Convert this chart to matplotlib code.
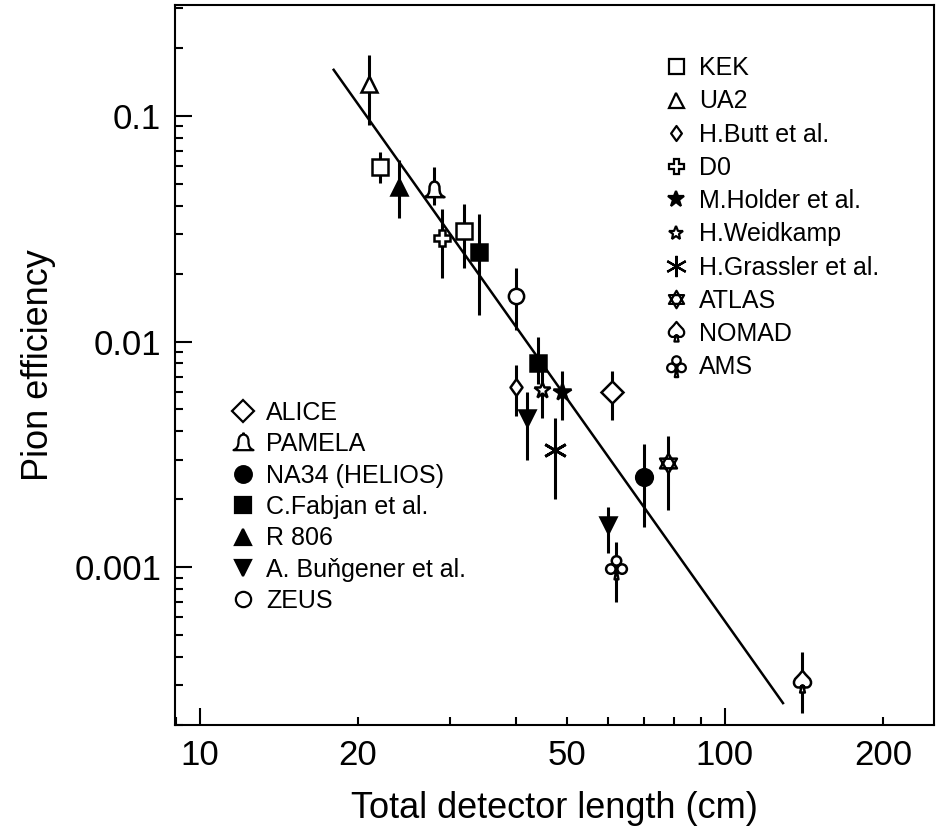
import numpy as np
import matplotlib
matplotlib.use("Agg")
import matplotlib.pyplot as plt
from matplotlib.path import Path
from matplotlib.lines import Line2D
from matplotlib import ticker

# values: x = detector length (cm), y = pion efficiency,
# hi / lo = upper and lower ends of the error bar
kek_x, kek_y, kek_hi, kek_lo = [22.1, 31.9], [0.0594, 0.0309], [0.0692, 0.0407], [0.0505, 0.0212]
ua2_x, ua2_y, ua2_hi, ua2_lo = [21.0], [0.139], [0.186], [0.091]
butt_x, butt_y, butt_hi, butt_lo = [40.1], [0.0063], [0.0079], [0.0047]
d0_x, d0_y, d0_hi, d0_lo = [29.0], [0.0288], [0.0387], [0.0191]
holder_x, holder_y, holder_hi, holder_lo = [49.0], [0.0060], [0.0074], [0.0045]
weid_x, weid_y, weid_hi, weid_lo = [44.9], [0.0061], [0.0079], [0.0046]
grass_x, grass_y, grass_hi, grass_lo = [47.5], [0.0033], [0.0046], [0.0020]
atlas_x, atlas_y, atlas_hi, atlas_lo = [78.0], [0.0029], [0.0038], [0.0018]
nomad_x, nomad_y, nomad_hi, nomad_lo = [140.0], [0.00031], [0.00042], [0.000225]
ams_x, ams_y, ams_hi, ams_lo = [62.0], [0.0010], [0.0013], [0.0007]

alice_x, alice_y, alice_hi, alice_lo = [61.0], [0.0060], [0.0074], [0.0045]
pam_x, pam_y, pam_hi, pam_lo = [28.0], [0.047], [0.0594], [0.0403]
na34_x, na34_y, na34_hi, na34_lo = [70.0], [0.0025], [0.0035], [0.0015]
fab_x, fab_y, fab_hi, fab_lo = [34.1, 44.0], [0.0249, 0.0080], [0.0367, 0.0105], [0.0131, 0.0065]
r806_x, r806_y, r806_hi, r806_lo = [24.0], [0.0484], [0.0638], [0.0353]
bung_x, bung_y, bung_hi, bung_lo = [42.0, 60.0], [0.0046, 0.00154], [0.0060, 0.00185], [0.0030, 0.00116]
zeus_x, zeus_y, zeus_hi, zeus_lo = [40.1], [0.0159], [0.0212], [0.0113]

# straight line fit (two end points)
fit_x = [18.0, 129.0]
fit_y = [0.16, 2.5e-4]

plt.rcParams['font.family'] = ['Liberation Sans', 'DejaVu Sans']

M, L, C, Z = Path.MOVETO, Path.LINETO, Path.CURVE4, Path.CLOSEPOLY


def bell():
    v = [(-0.9, -0.6), (0.9, -0.6),
         (0.55, -0.45), (0.45, -0.25), (0.45, 0.2),
         (0.45, 0.65), (0.2, 0.8), (0.0, 0.8),
         (-0.2, 0.8), (-0.45, 0.65), (-0.45, 0.2),
         (-0.45, -0.25), (-0.55, -0.45), (-0.9, -0.6),
         (0, 0),
         (0, 0.8), (0, 1.0)]
    c = [M, L, C, C, C, C, C, C, C, C, C, C, C, C, Z, M, L]
    return Path(v, c)


def spade():
    v = [(0, 1.0),
         (0.3, 0.55), (0.85, 0.3), (0.7, -0.15),
         (0.55, -0.55), (0.1, -0.45), (0.06, -0.25),
         (0.2, -0.85), (-0.2, -0.85), (-0.06, -0.25),
         (-0.1, -0.45), (-0.55, -0.55), (-0.7, -0.15),
         (-0.85, 0.3), (-0.3, 0.55), (0, 1.0),
         (0, 0)]
    c = [M, C, C, C, C, C, C, L, L, L, C, C, C, C, C, C, Z]
    return Path(v, c)


def club():
    s = 1 / 0.75
    parts = [Path.circle((0, 0.42 * s), 0.3 * s),
             Path.circle((-0.36 * s, -0.1 * s), 0.3 * s),
             Path.circle((0.36 * s, -0.1 * s), 0.3 * s),
             Path([(0, -0.1 * s), (0.12 * s, -0.75 * s), (-0.12 * s, -0.75 * s), (0, -0.1 * s)],
                  [M, L, L, Z])]
    return Path.make_compound_path(*parts)


def hexagram():
    up = [(np.cos(t), np.sin(t)) for t in np.deg2rad([90, 210, 330])]
    dn = [(np.cos(t), np.sin(t)) for t in np.deg2rad([270, 30, 150])]
    return Path(up + [(0, 0)] + dn + [(0, 0)], [M, L, L, Z, M, L, L, Z])


def thinDiamond():
    return Path([(0, 1), (0.72, 0), (0, -1), (-0.72, 0), (0, 0)], [M, L, L, L, Z])


# label, data, marker, size, filled
right_series = [
    ('KEK', kek_x, kek_y, kek_hi, kek_lo, 's', 12, False),
    ('UA2', ua2_x, ua2_y, ua2_hi, ua2_lo, '^', 12, False),
    ('H.Butt et al.', butt_x, butt_y, butt_hi, butt_lo, thinDiamond(), 12, False),
    ('D0', d0_x, d0_y, d0_hi, d0_lo, 'P', 12, False),
    ('M.Holder et al.', holder_x, holder_y, holder_hi, holder_lo, '*', 13, True),
    ('H.Weidkamp', weid_x, weid_y, weid_hi, weid_lo, '*', 12, False),
    ('H.Grassler et al.', grass_x, grass_y, grass_hi, grass_lo, (6, 2, 0), 17, False),
    ('ATLAS', atlas_x, atlas_y, atlas_hi, atlas_lo, hexagram(), 14, False),
    ('NOMAD', nomad_x, nomad_y, nomad_hi, nomad_lo, spade(), 17, False),
    ('AMS', ams_x, ams_y, ams_hi, ams_lo, club(), 17, False),
]
left_series = [
    ('ALICE', alice_x, alice_y, alice_hi, alice_lo, 'D', 11, False),
    ('PAMELA', pam_x, pam_y, pam_hi, pam_lo, bell(), 16, False),
    ('NA34 (HELIOS)', na34_x, na34_y, na34_hi, na34_lo, 'o', 12, True),
    ('C.Fabjan et al.', fab_x, fab_y, fab_hi, fab_lo, 's', 12, True),
    ('R 806', r806_x, r806_y, r806_hi, r806_lo, '^', 12, True),
    ('A. Buňgener et al.', bung_x, bung_y, bung_hi, bung_lo, 'v', 12, True),
    ('ZEUS', zeus_x, zeus_y, zeus_hi, zeus_lo, 'o', 11, False),
]

fig = plt.figure(figsize=(9.41, 8.33), dpi=100)
ax = fig.add_axes([0.186, 0.1297, 0.8065, 0.8643])

ax.plot(fit_x, fit_y, color='k', lw=1.8, zorder=1)


def drawSeries(series, legScale):
    handles = []
    for label, xs, ys, his, los, marker, ms, filled in series:
        ys = np.array(ys)
        yerr = [ys - np.array(los), np.array(his) - ys]
        ax.errorbar(xs, ys, yerr=yerr, fmt='none', ecolor='k', elinewidth=2.2, capsize=0, zorder=2)
        fc = 'k' if filled else 'white'
        mew = 1.8 if marker != (6, 2, 0) else 2.0
        ax.plot(xs, ys, ls='none', marker=marker, ms=ms, mfc=fc, mec='k', mew=mew, zorder=3)
        handles.append(Line2D([], [], ls='none', marker=marker, ms=ms * legScale, mfc=fc,
                              mec='k', mew=1.6, label=label))
    return handles


right_handles = drawSeries(right_series, 0.9)
left_handles = drawSeries(left_series, 1.0)

ax.set_xscale('log')
ax.set_yscale('log')
ax.set_xlim(8.98, 250)
ax.set_ylim(2.0e-4, 0.31)

ax.xaxis.set_major_locator(ticker.LogLocator(base=10))
ax.xaxis.set_minor_locator(ticker.LogLocator(base=10, subs=np.arange(2, 10)))
ax.xaxis.set_major_formatter(ticker.FuncFormatter(lambda v, p: '%g' % v))
ax.xaxis.set_minor_formatter(ticker.FuncFormatter(
    lambda v, p: '%g' % v if int(round(v)) in (20, 50, 200) else ''))
ax.yaxis.set_major_locator(ticker.LogLocator(base=10))
ax.yaxis.set_minor_locator(ticker.LogLocator(base=10, subs=np.arange(2, 10)))
ax.yaxis.set_major_formatter(ticker.FuncFormatter(lambda v, p: '%g' % v))
ax.yaxis.set_minor_formatter(ticker.NullFormatter())

ax.tick_params(which='both', direction='in', width=1.5, labelsize=25, pad=10,
               top=False, right=False)
ax.tick_params(which='major', length=12)
ax.tick_params(which='minor', length=6)
for sp in ax.spines.values():
    sp.set_linewidth(1.5)

ax.set_xlabel('Total detector length (cm)', fontsize=26, labelpad=14)
ax.set_ylabel('Pion efficiency', fontsize=26, labelpad=13)

leg1 = ax.legend(handles=right_handles, loc='upper left', bbox_to_anchor=(0.643, 0.929),
                 frameon=False, fontsize=18, handlelength=1.0, handletextpad=0.45,
                 labelspacing=0.37, borderpad=0, borderaxespad=0, numpoints=1)
ax.add_artist(leg1)
ax.legend(handles=left_handles, loc='upper left', bbox_to_anchor=(0.0725, 0.450),
          frameon=False, fontsize=18, handlelength=1.0, handletextpad=0.45,
          labelspacing=0.295, borderpad=0, borderaxespad=0, numpoints=1)

fig.savefig('out.png', dpi=100)
